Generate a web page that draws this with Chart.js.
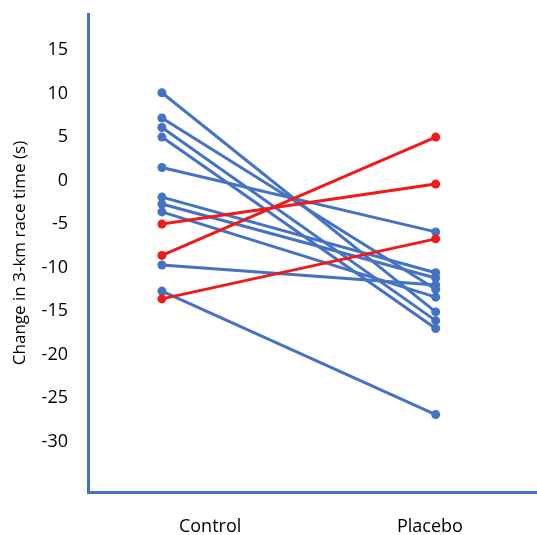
<!DOCTYPE html>
<html>
<head>
<meta charset="utf-8">
<script src="https://cdn.jsdelivr.net/npm/chart.js@4"></script>
<style>
    html, body { margin: 0; padding: 0; background: #fff; }
    #wrap { width: 537px; height: 535px; position: relative; }
</style>
</head>
<body>
<div id="wrap"><canvas id="myChart"></canvas></div>
<script>
const groups = ['Control', 'Placebo'];
const controlBlue = [10.1, 7.2, 6.1, 5.0, 1.5, -1.9, -2.7, -3.6, -9.7, -12.7];
const placeboBlue = [-15.1, -12.5, -16.1, -17.0, -5.9, -10.6, -11.2, -13.4, -12.0, -26.9];
const controlRed = [-5.0, -8.6, -13.6];
const placeboRed = [-0.4, 5.0, -6.7];
const yTicks = [15, 10, 5, 0, -5, -10, -15, -20, -25, -30];

const blue = '#4472C4';
const red = '#F01A1A';

function pairs(before, after, color, order) {
    return before.map((v, i) => ({
        data: [{ x: 0, y: v }, { x: 1, y: after[i] }],
        borderColor: color,
        backgroundColor: color,
        pointBackgroundColor: color,
        borderWidth: 3,
        pointRadius: 4.5,
        pointBorderWidth: 0,
        order: order
    }));
}

document.addEventListener('DOMContentLoaded', () => {
    let ctx = document.getElementById('myChart').getContext('2d');
    new Chart(ctx, {
        type: 'line',
        data: {
            datasets: [...pairs(controlRed, placeboRed, red, 0), ...pairs(controlBlue, placeboBlue, blue, 1)]
        },
        options: {
            responsive: true,
            maintainAspectRatio: false,
            animation: false,
            events: [],
            layout: { autoPadding: false, padding: { top: 14, left: 0, right: 0, bottom: 0 } },
            plugins: {
                legend: { display: false },
                tooltip: { enabled: false }
            },
            scales: {
                x: {
                    type: 'linear',
                    min: -0.27,
                    max: 1.37,
                    grid: { display: false },
                    border: { display: true, color: blue, width: 3 },
                    afterBuildTicks: (scale) => {
                        // label positions as laid out in the original figure
                        scale.ticks = [{ value: 0.176 }, { value: 0.979 }];
                    },
                    afterFit: (scale) => {
                        scale.height = 43;
                        scale.paddingLeft = 0;
                        scale.paddingRight = 0;
                    },
                    ticks: {
                        autoSkip: false,
                        maxRotation: 0,
                        padding: 16,
                        color: '#000',
                        font: { family: 'Open Sans', size: 18 },
                        callback: (value, index) => groups[index]
                    }
                },
                y: {
                    min: -35.8,
                    max: 19.15,
                    grid: { display: false },
                    border: { display: true, color: blue, width: 3 },
                    afterBuildTicks: (scale) => {
                        scale.ticks = yTicks.map(v => ({ value: v }));
                    },
                    afterFit: (scale) => {
                        scale.width = 88;
                        scale.paddingTop = 0;
                        scale.paddingBottom = 0;
                    },
                    ticks: {
                        padding: 12,
                        color: '#000',
                        font: { family: 'Open Sans', size: 18 }
                    },
                    title: {
                        display: true,
                        text: 'Change in 3-km race time (s)',
                        color: '#000',
                        font: { family: 'Open Sans', size: 17 },
                        padding: { top: 10, bottom: 0 }
                    }
                }
            }
        }
    });
});
</script>
</body>
</html>
